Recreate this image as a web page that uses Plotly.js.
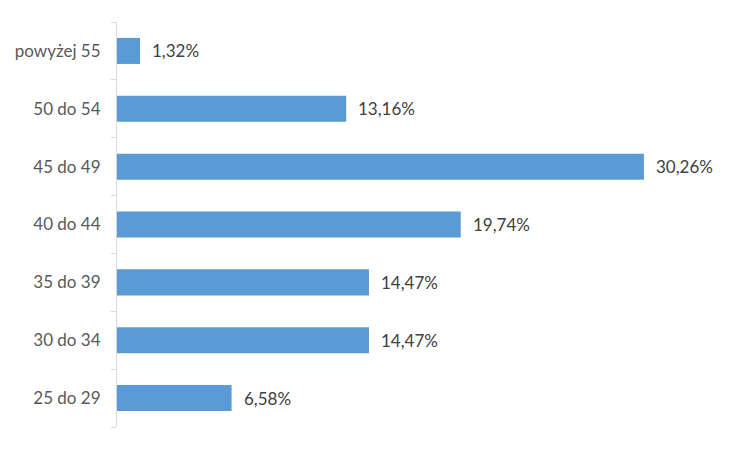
<!DOCTYPE html>
<html>
<head>
<meta charset="utf-8">
<script src="https://cdn.plot.ly/plotly-3.0.1.min.js"></script>
<style>body{margin:0;background:#fff}#chart{width:750px;height:450px}</style>
</head>
<body>
<div id="chart"></div>
<script>
const categories = ["25 do 29", "30 do 34", "35 do 39", "40 do 44", "45 do 49", "50 do 54", "powyżej 55"];
const values = [6.58, 14.47, 14.47, 19.74, 30.26, 13.16, 1.32];
const labels = ["6,58%", "14,47%", "14,47%", "19,74%", "30,26%", "13,16%", "1,32%"];

const font = "Lato, 'Open Sans', sans-serif";

const trace = {
  type: "bar",
  orientation: "h",
  y: categories,
  x: values,
  marker: {color: "#5B9BD5"},
  hoverinfo: "skip"
};

const annotations = values.map((v, i) => ({
  x: v, y: categories[i], xref: "x", yref: "y",
  text: labels[i], showarrow: false, xanchor: "left", xshift: 10,
  font: {family: font, size: 17, color: "#404040"}
}));

const layout = {
  width: 750, height: 450,
  margin: {l: 117, r: 27, t: 22, b: 23},
  paper_bgcolor: "#fff", plot_bgcolor: "#fff",
  bargap: 0.55,
  showlegend: false,
  xaxis: {range: [0, 34.8], visible: false, fixedrange: true},
  yaxis: {
    type: "category",
    categoryorder: "array", categoryarray: categories,
    showline: true, linecolor: "#d9d9d9", linewidth: 1,
    ticks: "outside", tickson: "boundaries", ticklen: 5, tickcolor: "#d9d9d9",
    ticklabelstandoff: 12,
    tickfont: {family: font, size: 17, color: "#595959"},
    showgrid: false, zeroline: false, fixedrange: true
  },
  annotations: annotations
};

Plotly.newPlot("chart", [trace], layout, {displayModeBar: false, staticPlot: true});
</script>
</body>
</html>
